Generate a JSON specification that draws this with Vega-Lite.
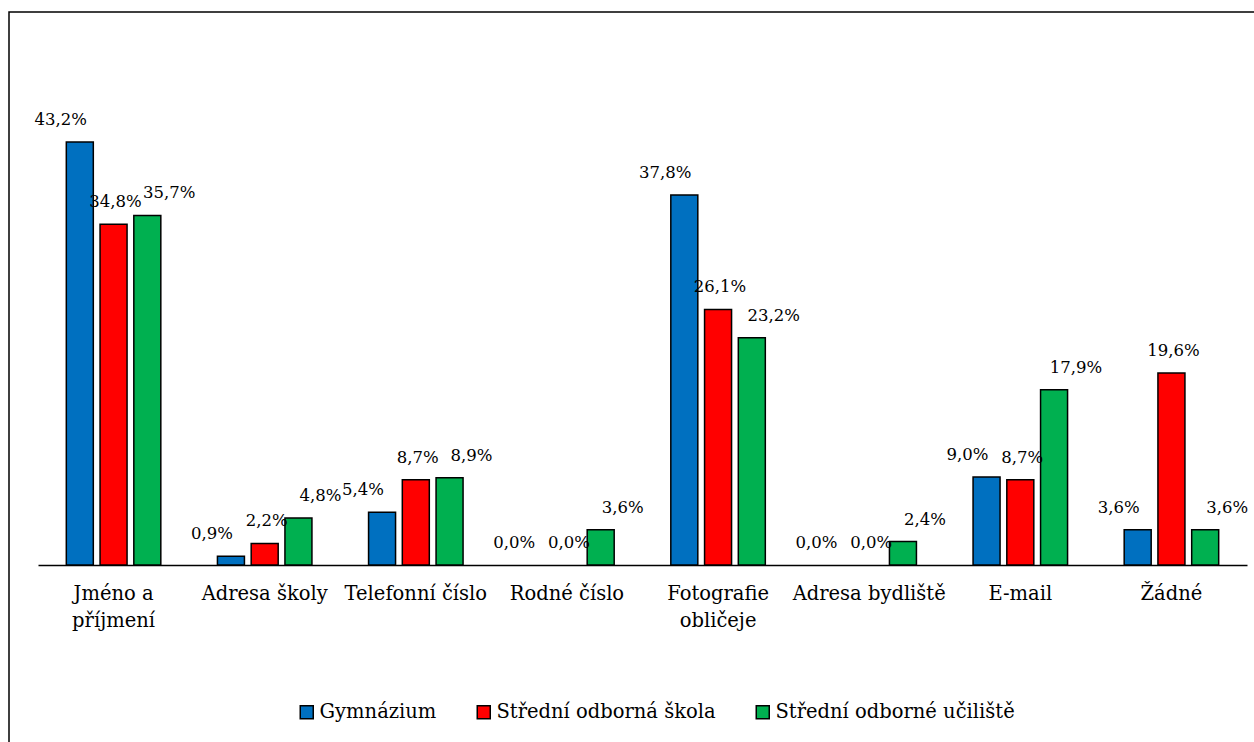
{
  "$schema": "https://vega.github.io/schema/vega-lite/v6.json",
  "autosize": "none",
  "padding": {"left": 9, "top": 12, "right": 0, "bottom": 0},
  "width": 1260,
  "height": 740,
  "background": "white",
  "config": {
    "font": "DejaVu Serif",
    "view": {"stroke": "black", "strokeWidth": 1.5},
    "locale": {"number": {"decimal": ",", "thousands": " ", "grouping": [3], "currency": ["", " Kč"]}}
  },
  "data": {
    "values": [
      {"kategorie": "Jméno a příjmení", "skola": "Gymnázium", "podil": 0.432},
      {"kategorie": "Jméno a příjmení", "skola": "Střední odborná škola", "podil": 0.348},
      {"kategorie": "Jméno a příjmení", "skola": "Střední odborné učiliště", "podil": 0.357},
      {"kategorie": "Adresa školy", "skola": "Gymnázium", "podil": 0.009},
      {"kategorie": "Adresa školy", "skola": "Střední odborná škola", "podil": 0.022},
      {"kategorie": "Adresa školy", "skola": "Střední odborné učiliště", "podil": 0.048},
      {"kategorie": "Telefonní číslo", "skola": "Gymnázium", "podil": 0.054},
      {"kategorie": "Telefonní číslo", "skola": "Střední odborná škola", "podil": 0.087},
      {"kategorie": "Telefonní číslo", "skola": "Střední odborné učiliště", "podil": 0.089},
      {"kategorie": "Rodné číslo", "skola": "Gymnázium", "podil": 0.0},
      {"kategorie": "Rodné číslo", "skola": "Střední odborná škola", "podil": 0.0},
      {"kategorie": "Rodné číslo", "skola": "Střední odborné učiliště", "podil": 0.036},
      {"kategorie": "Fotografie obličeje", "skola": "Gymnázium", "podil": 0.378},
      {"kategorie": "Fotografie obličeje", "skola": "Střední odborná škola", "podil": 0.261},
      {"kategorie": "Fotografie obličeje", "skola": "Střední odborné učiliště", "podil": 0.232},
      {"kategorie": "Adresa bydliště", "skola": "Gymnázium", "podil": 0.0},
      {"kategorie": "Adresa bydliště", "skola": "Střední odborná škola", "podil": 0.0},
      {"kategorie": "Adresa bydliště", "skola": "Střední odborné učiliště", "podil": 0.024},
      {"kategorie": "E-mail", "skola": "Gymnázium", "podil": 0.09},
      {"kategorie": "E-mail", "skola": "Střední odborná škola", "podil": 0.087},
      {"kategorie": "E-mail", "skola": "Střední odborné učiliště", "podil": 0.179},
      {"kategorie": "Žádné", "skola": "Gymnázium", "podil": 0.036},
      {"kategorie": "Žádné", "skola": "Střední odborná škola", "podil": 0.196},
      {"kategorie": "Žádné", "skola": "Střední odborné učiliště", "podil": 0.036}
    ]
  },
  "encoding": {
    "x": {
      "field": "kategorie",
      "type": "nominal",
      "sort": null,
      "scale": {"range": [29, 1238], "paddingInner": 0.33, "paddingOuter": 0.165},
      "axis": {
        "title": null,
        "orient": "bottom",
        "offset": -187,
        "domainColor": "black",
        "domainWidth": 1.5,
        "ticks": false,
        "labelAngle": 0,
        "labelFont": "DejaVu Serif",
        "labelFontSize": 19.5,
        "labelColor": "black",
        "labelPadding": 19,
        "labelLineHeight": 27,
        "labelExpr": "datum.label == 'Jméno a příjmení' ? ['Jméno a', 'příjmení'] : datum.label == 'Fotografie obličeje' ? ['Fotografie', 'obličeje'] : datum.label"
      }
    },
    "xOffset": {
      "field": "skola",
      "type": "nominal",
      "sort": ["Gymnázium", "Střední odborná škola", "Střední odborné učiliště"],
      "scale": {"paddingInner": 0.2, "paddingOuter": 0.1}
    },
    "y": {
      "field": "podil",
      "type": "quantitative",
      "scale": {"domain": [0, 0.5], "range": [553, 63.5], "nice": false},
      "axis": null
    }
  },
  "layer": [
    {
      "mark": {"type": "bar", "stroke": "black", "strokeWidth": 1.5},
      "encoding": {
        "strokeOpacity": {"condition": {"test": "datum.podil == 0", "value": 0}, "value": 1},
        "color": {
          "field": "skola",
          "type": "nominal",
          "sort": ["Gymnázium", "Střední odborná škola", "Střední odborné učiliště"],
          "scale": {"domain": ["Gymnázium", "Střední odborná škola", "Střední odborné učiliště"], "range": ["#0070C0", "#FF0000", "#00B050"]},
          "legend": {
            "title": null,
            "orient": "none",
            "direction": "horizontal",
            "legendX": 288,
            "legendY": 690,
            "symbolType": "square",
            "symbolSize": 169,
            "symbolStrokeColor": "black",
            "symbolStrokeWidth": 1.5,
            "labelFont": "DejaVu Serif",
            "labelFontSize": 19.5,
            "labelColor": "black",
            "labelOffset": 3,
            "columnPadding": 37,
            "labelLimit": 400
          }
        }
      }
    },
    {
      "transform": [{"filter": "datum.skola == 'Gymnázium'"}],
      "mark": {"type": "text", "baseline": "bottom", "dx": -19, "dy": -14, "fontSize": 16.5, "font": "DejaVu Serif", "color": "black"},
      "encoding": {"text": {"field": "podil", "type": "quantitative", "format": ".1%"}}
    },
    {
      "transform": [{"filter": "datum.skola == 'Střední odborná škola'"}],
      "mark": {"type": "text", "baseline": "bottom", "dx": 2, "dy": -14, "fontSize": 16.5, "font": "DejaVu Serif", "color": "black"},
      "encoding": {"text": {"field": "podil", "type": "quantitative", "format": ".1%"}}
    },
    {
      "transform": [{"filter": "datum.skola == 'Střední odborné učiliště'"}],
      "mark": {"type": "text", "baseline": "bottom", "dx": 22, "dy": -14, "fontSize": 16.5, "font": "DejaVu Serif", "color": "black"},
      "encoding": {"text": {"field": "podil", "type": "quantitative", "format": ".1%"}}
    }
  ]
}
